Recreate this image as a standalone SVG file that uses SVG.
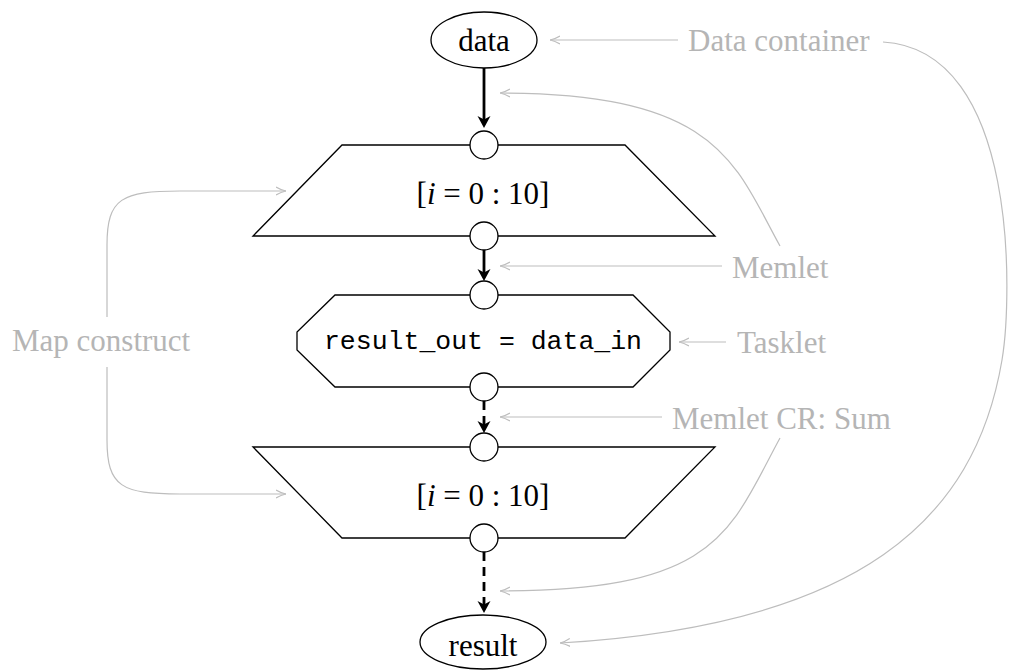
<svg xmlns="http://www.w3.org/2000/svg" width="1013" height="670" viewBox="0 0 1013 670">
<style>
.shape{fill:#fff;stroke:#000;stroke-width:1.3}
.conn{fill:#fff;stroke:#000;stroke-width:1.3}
.lbl{font-family:"Liberation Serif",serif;font-size:31px;fill:#000;text-anchor:middle;dominant-baseline:central}
.code{font-family:"Liberation Mono",monospace;font-size:26.5px;fill:#000;text-anchor:middle;dominant-baseline:central}
.note{font-family:"Liberation Serif",serif;font-size:31px;fill:#b5b5b5;dominant-baseline:central}
.edge{fill:none;stroke:#000;stroke-width:2.8}
.dash{stroke-dasharray:9,6}
.gray{fill:none;stroke:#bdbdbd;stroke-width:1.2}
</style>
<defs>
<marker id="ah" markerUnits="userSpaceOnUse" orient="auto" overflow="visible" refX="0" refY="0">
<path d="M5,0 L-7,-6.5 L-3.5,0 L-7,6.5 Z" fill="#000"/>
</marker>
<marker id="gh" viewBox="0 0 10 10" refX="10" refY="5" markerWidth="10" markerHeight="10" markerUnits="userSpaceOnUse" orient="auto">
<path d="M0,1 Q5,4 10,5 Q5,6 0,9" fill="none" stroke="#bdbdbd" stroke-width="1.2"/>
</marker>
</defs>

<g id="connectors">
<path class="edge" d="M484,68 L484,123" marker-end="url(#ah)"/>
<path class="edge" d="M484,250 L484,276" marker-end="url(#ah)"/>
<path class="edge dash" d="M484,401 L484,428" marker-end="url(#ah)"/>
<path class="edge dash" d="M484,552 L484,608" marker-end="url(#ah)"/>
</g>

<g id="map-entry">
<polygon class="shape" points="342,145 625,145 715,236 253,236"/>
<text class="lbl" x="483" y="193">[<tspan font-style="italic">i</tspan> = 0 : 10]</text>
<circle class="conn" cx="484" cy="145" r="14"/>
<circle class="conn" cx="484" cy="236" r="14"/>
</g>

<g id="tasklet">
<polygon class="shape" points="335,295 633,295 670,332 670,350 633,387 335,387 297,350 297,332"/>
<text class="code" x="483" y="342">result_out = data_in</text>
<circle class="conn" cx="484" cy="295" r="14"/>
<circle class="conn" cx="484" cy="387" r="14"/>
</g>

<g id="map-exit">
<polygon class="shape" points="253,447 715,447 625,538 342,538"/>
<text class="lbl" x="483" y="495">[<tspan font-style="italic">i</tspan> = 0 : 10]</text>
<circle class="conn" cx="484" cy="447" r="14"/>
<circle class="conn" cx="484" cy="538" r="14"/>
</g>

<g id="data">
<ellipse class="shape" cx="484" cy="40" rx="53" ry="28"/>
<text class="lbl" x="484" y="40">data</text>
</g>

<g id="result">
<ellipse class="shape" cx="483" cy="642" rx="63" ry="27"/>
<text class="lbl" x="483" y="645">result</text>
</g>

<g id="annotations">
<text class="note" x="688" y="40">Data container</text>
<text class="note" x="732" y="267">Memlet</text>
<text class="note" x="737" y="342">Tasklet</text>
<text class="note" x="672" y="418">Memlet CR: Sum</text>
<text class="note" x="12" y="340">Map construct</text>
<path class="gray" d="M678,40 L550,40" marker-end="url(#gh)"/>
<path class="gray" d="M883,42 C1020,50 1012,300 1002,360 C975,520 860,625 560,643" marker-end="url(#gh)"/>
<path class="gray" d="M780,246 C735,165 720,93 500,93" marker-end="url(#gh)"/>
<path class="gray" d="M722,266 L500,266" marker-end="url(#gh)"/>
<path class="gray" d="M726,342 L679,342" marker-end="url(#gh)"/>
<path class="gray" d="M662,417 L500,417" marker-end="url(#gh)"/>
<path class="gray" d="M780,438 C730,530 720,591 500,591" marker-end="url(#gh)"/>
<path class="gray" d="M107,317 L107,245 C107,198 122,191 180,191 L286,191" marker-end="url(#gh)"/>
<path class="gray" d="M107,367 L107,440 C107,487 122,494 180,494 L286,494" marker-end="url(#gh)"/>
</g>
</svg>
